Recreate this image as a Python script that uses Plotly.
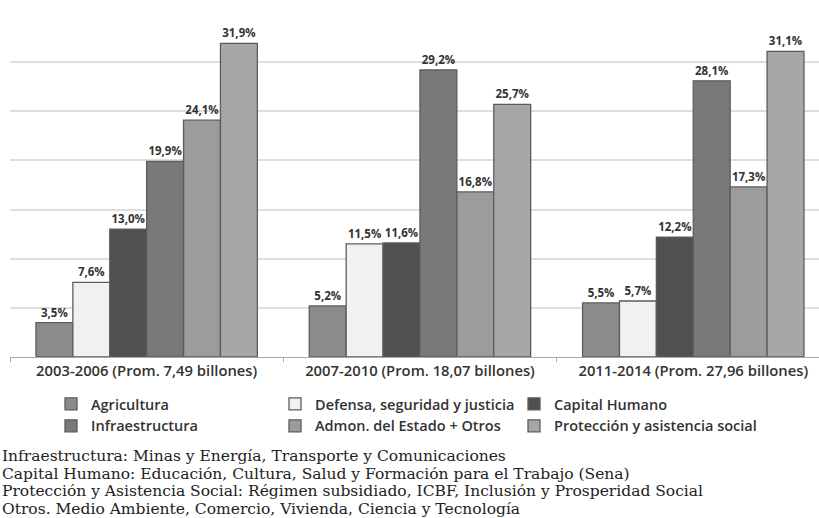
import plotly.graph_objects as go

# Periods on the x axis
periods = [
    "2003-2006 (Prom. 7,49 billones)",
    "2007-2010 (Prom. 18,07 billones)",
    "2011-2014 (Prom. 27,96 billones)",
]

# Share of investment by sector (%), one list per sector
agricultura = [3.5, 5.2, 5.5]
defensa = [7.6, 11.5, 5.7]
capital_humano = [13.0, 11.6, 12.2]
infraestructura = [19.9, 29.2, 28.1]
admon = [24.1, 16.8, 17.3]
proteccion = [31.9, 25.7, 31.1]

sector_names = [
    "Agricultura",
    "Defensa, seguridad y justicia",
    "Capital Humano",
    "Infraestructura",
    "Admon. del Estado + Otros",
    "Protección y asistencia social",
]
sector_values = [agricultura, defensa, capital_humano, infraestructura, admon, proteccion]
sector_colors = ["#8b8b8b", "#f1f1f1", "#505050", "#797979", "#9c9c9c", "#a7a7a7"]
# Legend column for each sector (three columns, two rows)
sector_legend = ["legend", "legend2", "legend3", "legend", "legend2", "legend3"]

footnotes = [
    "Infraestructura: Minas y Energía, Transporte y Comunicaciones",
    "Capital Humano: Educación, Cultura, Salud y Formación para el Trabajo (Sena)",
    "Protección y Asistencia Social: Régimen subsidiado, ICBF, Inclusión y Prosperidad Social",
    "Otros. Medio Ambiente, Comercio, Vivienda, Ciencia y Tecnología",
]

W, H = 819, 518
ML, MR, MT, MB = 10, 0, 13, 161
plot_h = H - MT - MB
plot_w = W - ML - MR


def px_to_paper_y(py):
    return (H - MB - py) / plot_h


def px_to_paper_x(px):
    return (px - ML) / plot_w


def fmt(v):
    return f"{v:.1f}".replace(".", ",") + "%"


fig = go.Figure()
for name, vals, col, lg in zip(sector_names, sector_values, sector_colors, sector_legend):
    fig.add_trace(go.Bar(
        name=name,
        x=periods,
        y=vals,
        legend=lg,
        marker=dict(color=col, line=dict(color="#5c5c5c", width=1.3)),
        text=[fmt(v) for v in vals],
        textposition="outside",
        textfont=dict(family="Open Sans", size=11.5, color="#333333", weight=700),
        constraintext="none",
        cliponaxis=False,
        hoverinfo="skip",
    ))


def legend_column(x_px):
    return dict(
        orientation="v",
        x=px_to_paper_x(x_px),
        xanchor="left",
        y=px_to_paper_y(388),
        yanchor="top",
        font=dict(family="Open Sans", size=14.5, color="#333333", weight=600),
        itemwidth=30,
        traceorder="normal",
        tracegroupgap=0,
        bgcolor="rgba(0,0,0,0)",
    )


fig.update_layout(
    width=W, height=H,
    margin=dict(l=ML, r=MR, t=MT, b=MB, pad=0),
    paper_bgcolor="white",
    plot_bgcolor="white",
    barmode="group",
    bargap=0.19,
    bargroupgap=0,
    showlegend=True,
    legend=legend_column(51),
    legend2=legend_column(275),
    legend3=legend_column(514),
    xaxis=dict(
        range=[-0.5, 2.46],
        showgrid=False,
        showline=True,
        linecolor="#a8a8a8",
        linewidth=1.2,
        ticks="outside",
        tickson="boundaries",
        ticklen=4,
        tickcolor="#a8a8a8",
        tickfont=dict(family="Open Sans", size=14.8, color="#333333", weight=600),
        fixedrange=True,
    ),
    yaxis=dict(
        range=[0, 35],
        dtick=5,
        showgrid=True,
        gridcolor="#dedede",
        gridwidth=1.5,
        zeroline=False,
        showticklabels=False,
        showline=False,
        fixedrange=True,
    ),
)

line_y = [456, 473.5, 491, 508.5]
for txt, ly in zip(footnotes, line_y):
    fig.add_annotation(
        text=txt,
        xref="paper", yref="paper",
        x=px_to_paper_x(0), y=px_to_paper_y(ly),
        xanchor="left", yanchor="middle",
        showarrow=False,
        font=dict(family="DejaVu Serif", size=15.5, color="#222222"),
    )

fig.write_html("out.html")
